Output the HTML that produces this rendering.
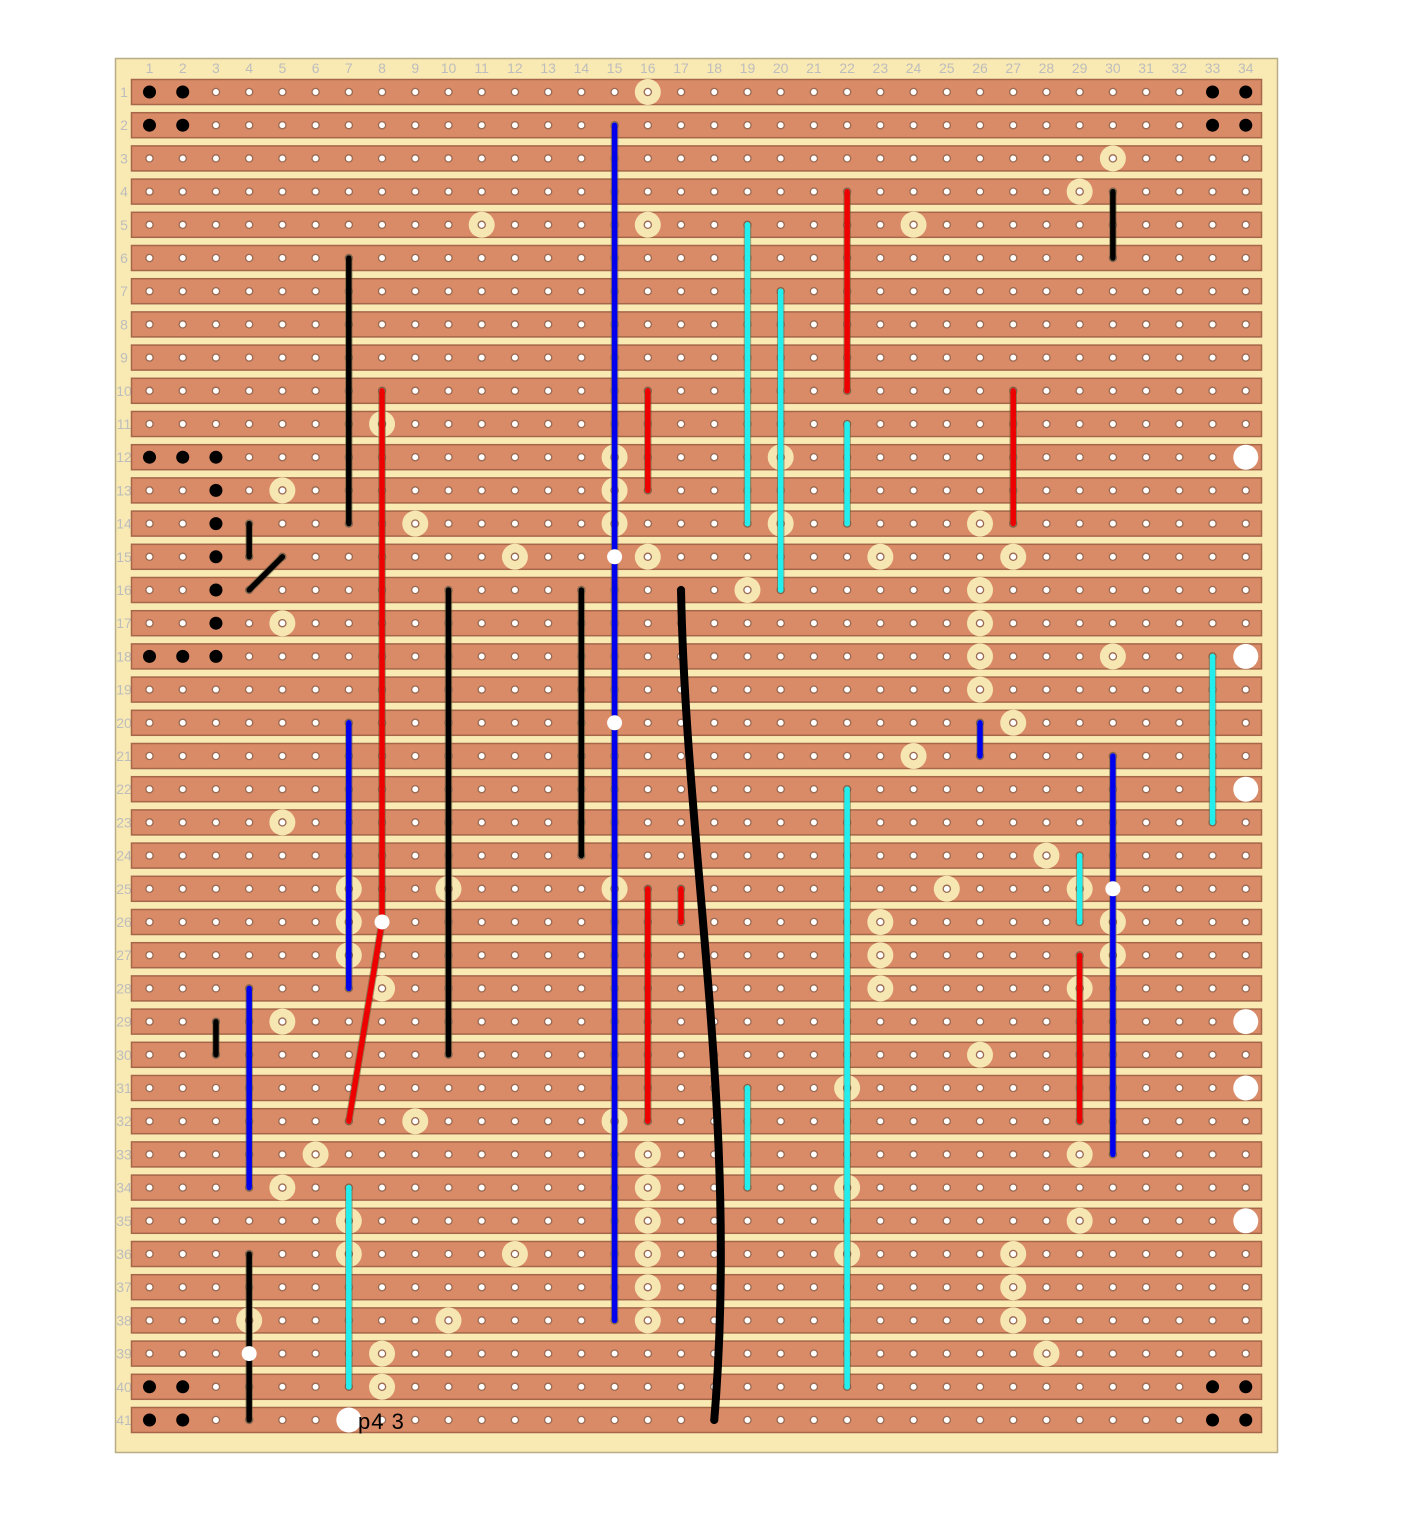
<!DOCTYPE html>
<html><head><meta charset="utf-8"><style>
body{margin:0;background:#fff;}
svg{display:block;font-family:"Liberation Sans",sans-serif;}
</style></head><body>
<svg id="svg" width="1402" height="1530" viewBox="0 0 1402 1530" xmlns="http://www.w3.org/2000/svg">
<rect x="115.5" y="58.5" width="1162" height="1394" fill="#f9e9b3" stroke="#b8ad86" stroke-width="1.5"/>
</svg>
<script>
const NS="http://www.w3.org/2000/svg";
const svg=document.getElementById('svg');
const X=c=>149.5+(c-1)*33.22, Y=r=>92+(r-1)*33.2;
const cols=34, rows=41;
const blackDots=[[1,1],[2,1],[33,1],[34,1],[1,2],[2,2],[33,2],[34,2],[1,12],[2,12],[3,12],[3,13],[3,14],[3,15],[3,16],[3,17],[1,18],[2,18],[3,18],[1,40],[2,40],[33,40],[34,40],[1,41],[2,41],[33,41],[34,41]];
const bigWhite=[[34,12],[34,18],[34,22],[34,29],[34,31],[34,35],[7,41]];
const smallWhite=[[15,15],[15,20],[8,26],[30,25],[4,39]];
const rings=[[16,1],[30,3],[29,4],[11,5],[16,5],[24,5],[8,11],[15,12],[20,12],[5,13],[15,13],[9,14],[15,14],[20,14],[26,14],[12,15],[16,15],[23,15],[27,15],[19,16],[26,16],[5,17],[26,17],[26,18],[30,18],[26,19],[27,20],[24,21],[5,23],[28,24],[7,25],[10,25],[15,25],[25,25],[29,25],[7,26],[23,26],[30,26],[7,27],[23,27],[30,27],[8,28],[23,28],[29,28],[5,29],[26,30],[22,31],[9,32],[15,32],[6,33],[16,33],[29,33],[5,34],[16,34],[22,34],[7,35],[16,35],[29,35],[7,36],[12,36],[16,36],[22,36],[27,36],[16,37],[27,37],[4,38],[10,38],[16,38],[27,38],[8,39],[28,39],[8,40]];
const wires=[["#0000ee",15,2,15,38],["#000",7,6,7,14],["#ee0000",8,10,8,26],["#ee0000",8,26,7,32],["#000",4,14,4,15],["#000",4,16,5,15],["#000",10,16,10,30],["#000",14,16,14,24],["#ee0000",16,10,16,13],["#ee0000",16,25,16,32],["#ee0000",17,25,17,26],["#22eeee",19,5,19,14],["#22eeee",20,7,20,16],["#ee0000",22,4,22,10],["#22eeee",22,11,22,14],["#22eeee",22,22,22,40],["#ee0000",27,10,27,14],["#000",30,4,30,6],["#0000ee",26,20,26,21],["#0000ee",30,21,30,33],["#22eeee",33,18,33,23],["#22eeee",29,24,29,26],["#ee0000",29,27,29,32],["#0000ee",7,20,7,28],["#0000ee",4,28,4,34],["#000",3,29,3,30],["#22eeee",19,31,19,34],["#22eeee",7,34,7,40],["#000",4,36,4,41]];
function el(t,a,p){const e=document.createElementNS(NS,t);for(const k in a)e.setAttribute(k,a[k]);(p||svg).appendChild(e);return e;}
for(let c=1;c<=cols;c++){const t=el('text',{x:X(c),y:73,'text-anchor':'middle','font-size':14,fill:'#bdbdbd'});t.textContent=c;

}
for(let r=1;r<=rows;r++){const t=el('text',{x:124,y:Y(r)+5,'text-anchor':'middle','font-size':14,fill:'#bdbdbd'});t.textContent=r;


const s=el('rect',{x:131.5,y:Y(r)-12.5,width:1130,height:25,fill:'#d98a66',stroke:'#a5664a','stroke-width':1.5});

}
rings.forEach(([c,r])=>{const e=el('circle',{cx:X(c),cy:Y(r),r:13,fill:'#f6e6b2'});

});
for(let r=1;r<=rows;r++)for(let c=1;c<=cols;c++){const h=el('circle',{cx:X(c),cy:Y(r),r:3.6,fill:'#fff',stroke:'#9a6a52','stroke-width':1.3});

}
wires.forEach(([col,c1,r1,c2,r2])=>{const o=el('line',{x1:X(c1),y1:Y(r1),x2:X(c2),y2:Y(r2),stroke:'#553',"stroke-width":7.5,'stroke-linecap':'round','stroke-opacity':0.5});


const w=el('line',{x1:X(c1),y1:Y(r1),x2:X(c2),y2:Y(r2),stroke:col,"stroke-width":5.5,'stroke-linecap':'round'});

});
const cv=el('path',{d:`M${X(17)} ${Y(16)} C ${X(17)+5} ${Y(24)}, ${X(18)+25} ${Y(32)}, ${X(18)} ${Y(41)}`,fill:'none',stroke:'#000','stroke-width':8,'stroke-linecap':'round'});


blackDots.forEach(([c,r])=>{const e=el('circle',{cx:X(c),cy:Y(r),r:6.5,fill:'#000'});

});
bigWhite.forEach(([c,r])=>{const e=el('circle',{cx:X(c),cy:Y(r),r:12.5,fill:'#fff'});

});
smallWhite.forEach(([c,r])=>{const e=el('circle',{cx:X(c),cy:Y(r),r:7.5,fill:'#fff'});

});
const lbl=el('text',{x:358,y:1429,'font-size':22,fill:'#000','letter-spacing':'1'});lbl.textContent='p4 3';


</script>
</body></html>
